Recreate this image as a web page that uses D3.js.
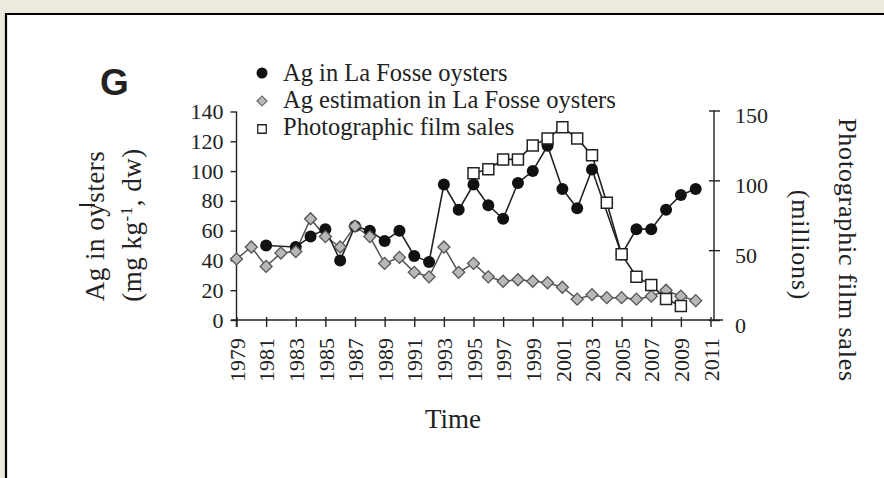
<!DOCTYPE html>
<html>
<head>
<meta charset="utf-8">
<script src="https://cdn.jsdelivr.net/npm/d3@7"></script>
<style>
  html, body { margin: 0; padding: 0; background: #eceadf; }
  svg { display: block; }
</style>
</head>
<body>
<svg id="chart" width="884" height="478"></svg>
<script>
// Ag in La Fosse oysters (mg/kg dw)
var agYears  = [1981, 1983, 1984, 1985, 1986, 1987, 1988, 1989, 1990, 1991, 1992, 1993, 1994, 1995,
                1996, 1997, 1998, 1999, 2000, 2001, 2002, 2003, 2005, 2006, 2007, 2008, 2009, 2010];
var agValues = [50, 49, 56, 61, 40, 63, 60, 53, 60, 43, 39, 91, 74, 91,
                77, 68, 92, 100, 117, 88, 75, 101, 44, 61, 61, 74, 84, 88];

// Ag estimation in La Fosse oysters
var estYears  = [1979, 1980, 1981, 1982, 1983, 1984, 1985, 1986, 1987, 1988, 1989, 1990, 1991, 1992, 1993, 1994,
                 1995, 1996, 1997, 1998, 1999, 2000, 2001, 2002, 2003, 2004, 2005, 2006, 2007, 2008, 2009, 2010];
var estValues = [41, 49, 36, 45, 46, 68, 56, 49, 63, 56, 38, 42, 32, 29, 49, 32,
                 38, 29, 26, 27, 26, 25, 22, 14, 17, 15, 15, 14, 16, 20, 16, 13];

// Photographic film sales (millions), right axis
var filmYears  = [1995, 1996, 1997, 1998, 1999, 2000, 2001, 2002, 2003, 2004, 2005, 2006, 2007, 2008, 2009];
var filmValues = [105, 108, 115, 115, 125, 130, 138, 130, 118, 84, 47, 31, 25, 15, 10];

var xTicks     = [1979, 1981, 1983, 1985, 1987, 1989, 1991, 1993, 1995, 1997, 1999, 2001, 2003, 2005, 2007, 2009, 2011];
var leftTicks  = [0, 20, 40, 60, 80, 100, 120, 140];
var rightTicks = [0, 50, 100, 150];
var legendLabels = ["Ag in La Fosse oysters", "Ag estimation in La Fosse oysters", "Photographic film sales"];

var serif = "'Liberation Serif', 'Times New Roman', serif";
var ink = "#222";

var svg = d3.select("#chart");

// page frame
svg.append("rect").attr("x", 6).attr("y", 14).attr("width", 878).attr("height", 464).attr("fill", "#fff");
svg.append("path").attr("d", "M6,478V14H884").attr("fill", "none").attr("stroke", "#000").attr("stroke-width", 2.2);

var x  = d3.scaleLinear().domain([1979, 2011]).range([236.5, 710.5]);
var yL = d3.scaleLinear().domain([0, 140]).range([320, 111.5]);
var yR = d3.scaleLinear().domain([0, 150]).range([320, 110.5]);

function styleAxis(g) {
  g.attr("font-family", serif).attr("font-size", 22);
  g.selectAll("line").attr("stroke", ink).attr("stroke-width", 1.4);
  g.selectAll("text").attr("fill", ink);
}

// x axis
var xAxis = svg.append("g")
  .attr("transform", "translate(0,320)")
  .call(d3.axisBottom(x).tickValues(xTicks).tickFormat(d3.format("d")).tickSizeInner(7).tickSizeOuter(0));
xAxis.select(".domain").remove();
xAxis.append("line").attr("x1", 231).attr("x2", 723).attr("y1", 0).attr("y2", 0)
  .attr("stroke", "#444").attr("stroke-width", 2.2);
styleAxis(xAxis);
xAxis.selectAll(".tick line").attr("y1", -3).attr("y2", 7);
xAxis.selectAll(".tick text")
  .attr("transform", "rotate(-90)")
  .attr("text-anchor", "end")
  .attr("x", -18).attr("y", 0).attr("dy", "0.35em");

// left axis
var lAxis = svg.append("g")
  .attr("transform", "translate(236.5,0)")
  .call(d3.axisLeft(yL).tickValues(leftTicks).tickSizeInner(6).tickSizeOuter(0).tickPadding(7));
lAxis.select(".domain").remove();
lAxis.append("line").attr("x1", 0).attr("x2", 0).attr("y1", 111.5).attr("y2", 327);
styleAxis(lAxis);

// right axis
var rAxis = svg.append("g")
  .attr("transform", "translate(714,0)")
  .call(d3.axisRight(yR).tickValues(rightTicks).tickSizeInner(6).tickSizeOuter(0).tickPadding(15));
rAxis.select(".domain").remove();
rAxis.append("line").attr("x1", 0).attr("x2", 0).attr("y1", 110.5).attr("y2", 320);
styleAxis(rAxis);
rAxis.selectAll(".tick line").attr("x1", -5);
rAxis.selectAll(".tick text").attr("dy", "0.55em");

// series
var agData   = agYears.map(function(d, i) { return [d, agValues[i]]; });
var estData  = estYears.map(function(d, i) { return [d, estValues[i]]; });
var filmData = filmYears.map(function(d, i) { return [d, filmValues[i]]; });

var lineL = d3.line().x(function(d) { return x(d[0]); }).y(function(d) { return yL(d[1]); });
var lineR = d3.line().x(function(d) { return x(d[0]); }).y(function(d) { return yR(d[1]); });

svg.append("path").attr("d", lineL(estData)).attr("fill", "none").attr("stroke", "#555").attr("stroke-width", 1.5);
svg.append("path").attr("d", lineL(agData)).attr("fill", "none").attr("stroke", ink).attr("stroke-width", 1.6);
svg.append("path").attr("d", lineR(filmData)).attr("fill", "none").attr("stroke", ink).attr("stroke-width", 1.6);

var diamond = d3.symbol().type(d3.symbolSquare).size(72);
var square  = d3.symbol().type(d3.symbolSquare).size(121);

svg.selectAll("circle.ag").data(agData).enter().append("circle")
  .attr("class", "ag")
  .attr("cx", function(d) { return x(d[0]); })
  .attr("cy", function(d) { return yL(d[1]); })
  .attr("r", 6)
  .attr("fill", "#111");

svg.selectAll("path.est").data(estData).enter().append("path")
  .attr("class", "est")
  .attr("d", diamond)
  .attr("transform", function(d) { return "translate(" + x(d[0]) + "," + yL(d[1]) + ") rotate(45)"; })
  .attr("fill", "#b8b8b8").attr("stroke", "#555").attr("stroke-width", 1.3);

svg.selectAll("path.film").data(filmData).enter().append("path")
  .attr("class", "film")
  .attr("d", square)
  .attr("transform", function(d) { return "translate(" + x(d[0]) + "," + yR(d[1]) + ")"; })
  .attr("fill", "#fff").attr("stroke", ink).attr("stroke-width", 1.5);

// legend
var legend = svg.append("g").attr("font-family", serif).attr("font-size", 24.5).attr("fill", ink);
var legY = [81, 108, 135];
legendLabels.forEach(function(label, i) {
  legend.append("text").attr("x", 283).attr("y", legY[i]).text(label);
});
legend.append("circle").attr("cx", 262).attr("cy", 73).attr("r", 5.5).attr("fill", "#111");
legend.append("path").attr("d", d3.symbol().type(d3.symbolSquare).size(50))
  .attr("transform", "translate(262,101) rotate(45)")
  .attr("fill", "#b8b8b8").attr("stroke", "#666").attr("stroke-width", 1.2);
legend.append("path").attr("d", d3.symbol().type(d3.symbolSquare).size(72))
  .attr("transform", "translate(262,129)")
  .attr("fill", "#fff").attr("stroke", ink).attr("stroke-width", 1.3);

// panel letter
svg.append("text").attr("x", 100).attr("y", 95)
  .attr("font-family", "'Liberation Sans', Arial, sans-serif").attr("font-weight", "bold")
  .attr("font-size", 37).attr("fill", ink).text("G");

// axis titles
svg.append("text").attr("x", 453).attr("y", 428).attr("text-anchor", "middle")
  .attr("font-family", serif).attr("font-size", 27).attr("fill", ink).text("Time");

var lt = svg.append("g").attr("font-family", serif).attr("font-size", 27).attr("fill", ink)
  .attr("letter-spacing", 0.5).attr("text-anchor", "middle");
lt.append("text").attr("transform", "translate(104,226) rotate(-90)").text("Ag in oysters");
var lt2 = lt.append("text").attr("transform", "translate(141,225) rotate(-90)");
lt2.append("tspan").text("(mg kg");
lt2.append("tspan").attr("font-size", 17).attr("dy", "-0.55em").text("-1");
lt2.append("tspan").attr("dy", "0.35em").text(", dw)");
svg.append("line").attr("x1", 79).attr("x2", 95).attr("y1", 205).attr("y2", 205)
  .attr("stroke", ink).attr("stroke-width", 2);

var rt = svg.append("g").attr("font-family", serif).attr("font-size", 26).attr("fill", ink)
  .attr("letter-spacing", 0.8).attr("text-anchor", "middle");
rt.append("text").attr("transform", "translate(839,250) rotate(90)").text("Photographic film sales");
rt.append("text").attr("transform", "translate(792,245) rotate(90)").text("(millions)");
</script>
</body>
</html>
